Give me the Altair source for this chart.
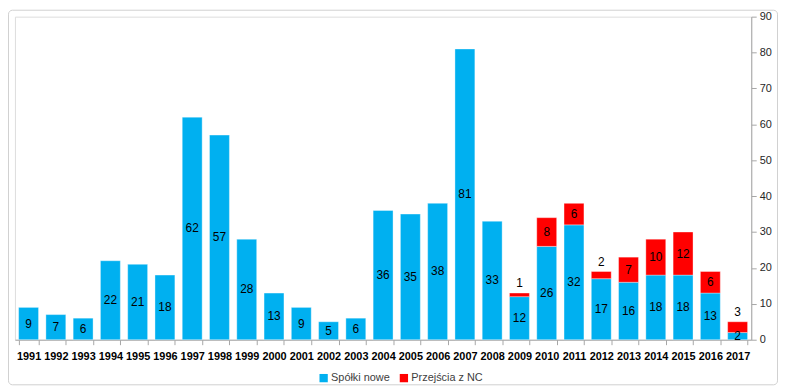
import altair as alt
import pandas as pd

years = [str(y) for y in range(1991, 2018)]
spolki_nowe = [9, 7, 6, 22, 21, 18, 62, 57, 28, 13, 9, 5, 6, 36, 35, 38, 81, 33,
               12, 26, 32, 17, 16, 18, 18, 13, 2]
przejscia_nc = [0, 0, 0, 0, 0, 0, 0, 0, 0, 0, 0, 0, 0, 0, 0, 0, 0, 0,
                1, 8, 6, 2, 7, 10, 12, 6, 3]
series_names = ["Spółki nowe", "Przejścia z NC"]
colors = ["#00B0F0", "#FF0000"]
y_ticks = list(range(0, 91, 10))

rows = []
for yr, a, b in zip(years, spolki_nowe, przejscia_nc):
    rows.append({"year": yr, "series": series_names[0], "value": a, "order": 0})
    if b > 0:
        rows.append({"year": yr, "series": series_names[1], "value": b, "order": 1})
df = pd.DataFrame(rows)

lab_blue = pd.DataFrame({"year": years, "pos": [v / 2 for v in spolki_nowe],
                         "txt": [str(v) for v in spolki_nowe]})
lab_red_in = pd.DataFrame([{"year": yr, "pos": a + b / 2, "txt": str(b)}
                           for yr, a, b in zip(years, spolki_nowe, przejscia_nc) if b > 3])
lab_red_top = pd.DataFrame([{"year": yr, "pos": a + b, "txt": str(b)}
                            for yr, a, b in zip(years, spolki_nowe, przejscia_nc) if 0 < b <= 3])

W, H = 743, 326
FONT = "Liberation Sans"

x_axis = alt.Axis(title=None, labelAngle=0, labelFont=FONT, labelFontSize=11,
                  labelFontWeight="bold", labelColor="#000000",
                  domainColor="#A6A6A6", tickColor="#A6A6A6", tickSize=5,
                  tickBand="extent", labelPadding=6)
y_axis = alt.Axis(title=None, orient="right", values=y_ticks, grid=False,
                  labelFont=FONT, labelFontSize=11, labelColor="#262626",
                  domainColor="#A6A6A6", tickColor="#A6A6A6", tickSize=5,
                  labelPadding=3, labelOverlap=False, labelFlush=False)
x_scale = alt.Scale(paddingInner=0.27, paddingOuter=0.135)
y_scale = alt.Scale(domain=[0, 90], nice=False)

bars = alt.Chart(df).mark_bar(stroke="#FFFFFF", strokeWidth=0.6, strokeOpacity=0.6).encode(
    x=alt.X("year:N", sort=years, scale=x_scale, axis=x_axis),
    y=alt.Y("value:Q", stack="zero", scale=y_scale, axis=y_axis),
    color=alt.Color("series:N", sort=series_names,
                    scale=alt.Scale(domain=series_names, range=colors),
                    legend=alt.Legend(title=None, orient="none", direction="horizontal",
                                      legendX=306, legendY=359, symbolType="square",
                                      symbolSize=70, symbolStrokeWidth=0,
                                      labelFont=FONT, labelFontSize=11,
                                      labelColor="#404040", columnPadding=8,
                                      symbolOffset=0, labelOffset=2, padding=0)),
    order=alt.Order("order:Q"),
)

def txt(data, dy=0, baseline="middle"):
    return alt.Chart(data).mark_text(font=FONT, fontSize=12, color="#000000",
                                     baseline=baseline, dy=dy).encode(
        x=alt.X("year:N", sort=years, scale=x_scale, axis=x_axis),
        y=alt.Y("pos:Q", scale=y_scale, axis=y_axis),
        text="txt:N")

border = alt.Chart(pd.DataFrame({"a": [0]})).mark_rect(
    fill=None, stroke="#D0D0D0", strokeWidth=1, cornerRadius=4, clip=False).encode(
    x=alt.value(-6.5), x2=alt.value(769.5), y=alt.value(-6.5), y2=alt.value(371.5))

chart = alt.layer(border, bars, txt(lab_blue), txt(lab_red_in),
                  txt(lab_red_top, dy=-3, baseline="bottom")).properties(
    width=W, height=H,
    autosize=alt.AutoSizeParams(type="none"),
    padding={"left": 7, "top": 7, "right": 27, "bottom": 47},
).configure_view(stroke=None).configure(background="#FFFFFF")

chart.save("out.html", embed_options={"renderer": "svg", "actions": False})
